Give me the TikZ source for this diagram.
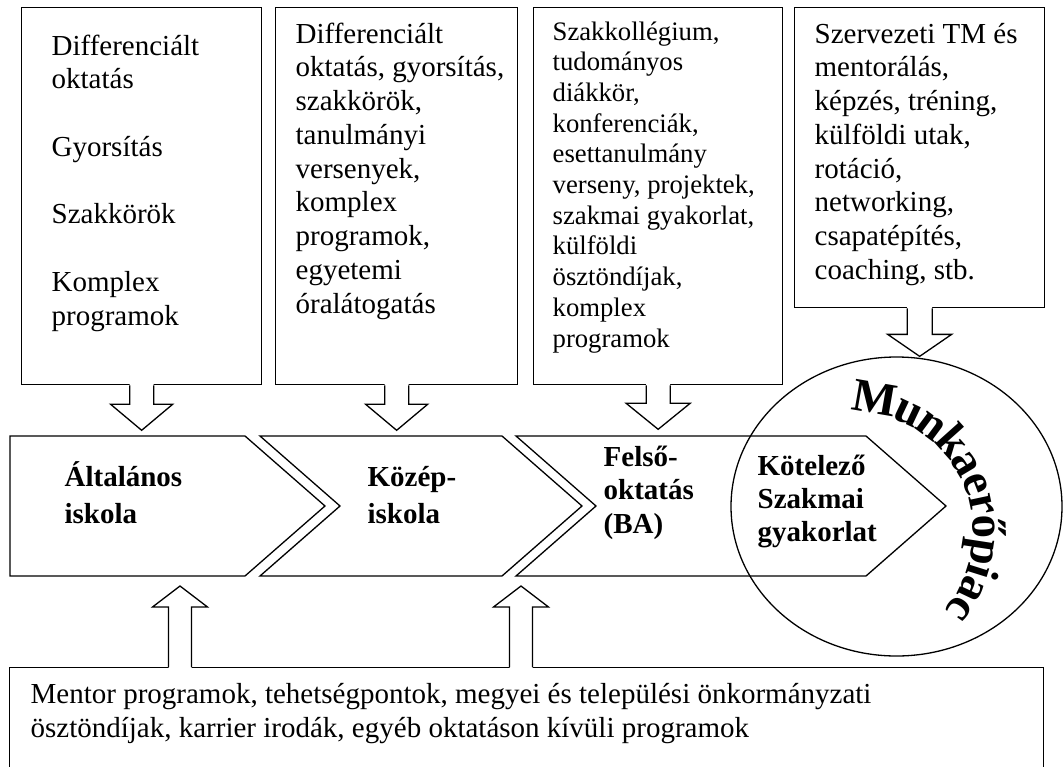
\documentclass[tikz,border=0pt]{standalone}
\usepackage{fontspec}
\setmainfont{Liberation Serif}
\usetikzlibrary{calc,shapes.geometric}

% left-aligned stack of lines whose baseline is the first line
\newcommand\rows[1]{\begin{tabular}[t]{@{}l@{}}#1\end{tabular}}

% hollow block arrow: #1 start, #2 tip, #3 signed head length,
% #4 half shaft width, #5 half head width
\newcommand\blockarrow[5]{%
  \fill[white] let \p1=(#1), \p2=(#2) in
    (\x2-#4,\y1+0.05*#3) -- (\x2-#4,\y2+#3) -- (\x2-#5,\y2+#3) -- (\x2,\y2)
    -- (\x2+#5,\y2+#3) -- (\x2+#4,\y2+#3) -- (\x2+#4,\y1+0.05*#3) -- cycle;
  \draw[line join=miter] let \p1=(#1), \p2=(#2) in
    (\x2-#4,\y1) -- (\x2-#4,\y2+#3) -- (\x2-#5,\y2+#3) -- (\x2,\y2)
    -- (\x2+#5,\y2+#3) -- (\x2+#4,\y2+#3) -- (\x2+#4,\y1);
}

\begin{document}
\begin{tikzpicture}[x=1pt,y=1pt,
  line width=1.3pt,
  frame/.style={draw, rectangle, inner sep=0pt, anchor=north west},
  listtext/.style={anchor=base west, inner sep=0pt, font=\fontsize{29}{33.75}\selectfont},
  smalllist/.style={anchor=base west, inner sep=0pt, font=\fontsize{26.7}{30.7}\selectfont},
  stage/.style={anchor=base west, inner sep=0pt, font=\bfseries\fontsize{29}{37}\selectfont},
  archletter/.style={anchor=base, inner sep=0pt, font=\bfseries\fontsize{47}{47}\selectfont},
]
\useasboundingbox (0,0) rectangle (1063,-766);

% support boxes
\node[frame, minimum width=240pt, minimum height=377pt] (b1) at (21,-7) {};
\node[frame, minimum width=242pt, minimum height=377pt] (b2) at (275,-7) {};
\node[frame, minimum width=249pt, minimum height=377pt] (b3) at (533,-7) {};
\node[frame, minimum width=250pt, minimum height=300pt] (b4) at (794,-7) {};
\node[frame, minimum width=1034pt, minimum height=140pt] (b5) at (9,-667) {};

% stages of the pipeline
\draw (10,-436) -- (245,-436) -- (325,-506) -- (245,-576) -- (10,-576) -- cycle;
\draw (260,-436) -- (502,-436) -- (582,-506) -- (502,-576) -- (260,-576) -- (340,-506) -- cycle;
\draw (516,-436) -- (866,-436) -- (946,-506) -- (866,-576) -- (516,-576) -- (596,-506) -- cycle;

% labour market
\node[draw, ellipse, minimum width=331pt, minimum height=299pt, inner sep=0pt] (mkt) at (896.5,-506.5) {};

% arrow end points
\coordinate (tip1) at ($(b1.south)+(0,-45)$);
\coordinate (tip2) at ($(b2.south)+(0,-45)$);
\coordinate (tip3) at ($(b3.south)+(0,-44)$);
\coordinate (tip4) at (b4.south |- mkt.north);
\coordinate (foot1) at (180,-667);
\coordinate (foot2) at (521,-667);
\coordinate (tip5) at (180,-586);
\coordinate (tip6) at (521,-586);

\blockarrow{b1.south}{tip1}{26pt}{12pt}{31pt}
\blockarrow{b2.south}{tip2}{26pt}{12pt}{31pt}
\blockarrow{b3.south}{tip3}{26pt}{12pt}{32pt}
\blockarrow{b4.south}{tip4}{22pt}{12.5pt}{32pt}
\blockarrow{foot1}{tip5}{-21pt}{11.5pt}{27.5pt}
\blockarrow{foot2}{tip6}{-21pt}{11.5pt}{27.5pt}

% box texts
\node[listtext] (t1) at (51,-55) {\rows{Differenciált\\oktatás\\ \\Gyorsítás\\ \\Szakkörök\\ \\Komplex\\programok}};
\node[listtext] (t2) at (295,-43) {\rows{Differenciált\\oktatás, gyorsítás,\\szakkörök,\\tanulmányi\\versenyek,\\komplex\\programok,\\egyetemi\\óralátogatás}};
\node[smalllist] (t3) at (552,-40) {\rows{Szakkollégium,\\tudományos\\diákkör,\\konferenciák,\\esettanulmány\\verseny, projektek,\\szakmai gyakorlat,\\külföldi\\ösztöndíjak,\\komplex\\programok}};
\node[listtext] (t4) at (814,-43) {\rows{Szervezeti TM és\\mentorálás,\\képzés, tréning,\\külföldi utak,\\rotáció,\\networking,\\csapatépítés,\\coaching, stb.}};
\node[anchor=base west, inner sep=0pt, font=\fontsize{29}{34.5}\selectfont] (t5) at (30,-703)
  {\rows{Mentor programok, tehetségpontok, megyei és települési önkormányzati\\ösztöndíjak, karrier irodák, egyéb oktatáson kívüli programok}};

% stage labels
\node[stage] (s1) at (64,-486) {\rows{Általános\\iskola}};
\node[stage] (s2) at (367,-486) {\rows{Közép-\\iskola}};
\node[stage, font=\bfseries\fontsize{29}{33.5}\selectfont] (s3) at (603,-466) {\rows{Felső-\\oktatás\\(BA)}};
\node[stage, font=\bfseries\fontsize{29}{33}\selectfont] (s4) at (757,-475) {\rows{Kötelező\\Szakmai\\gyakorlat}};

% arched title, one letter at a time on a circle of radius 121 round (852,-532)
\coordinate (arcc) at (852,-532);
\foreach \ch/\ang [count=\i] in {M/80.2, u/64.7, n/53.3, k/41.8, a/30.9, e/21.1,
    r/11.95, ő/2.2, p/-8.7, i/-17.4, a/-25.4, c/-35.2}
  \node[archletter, rotate=\ang-90] (arch\i) at ($(arcc)+(\ang:121)$) {\ch};
\end{tikzpicture}
\end{document}
